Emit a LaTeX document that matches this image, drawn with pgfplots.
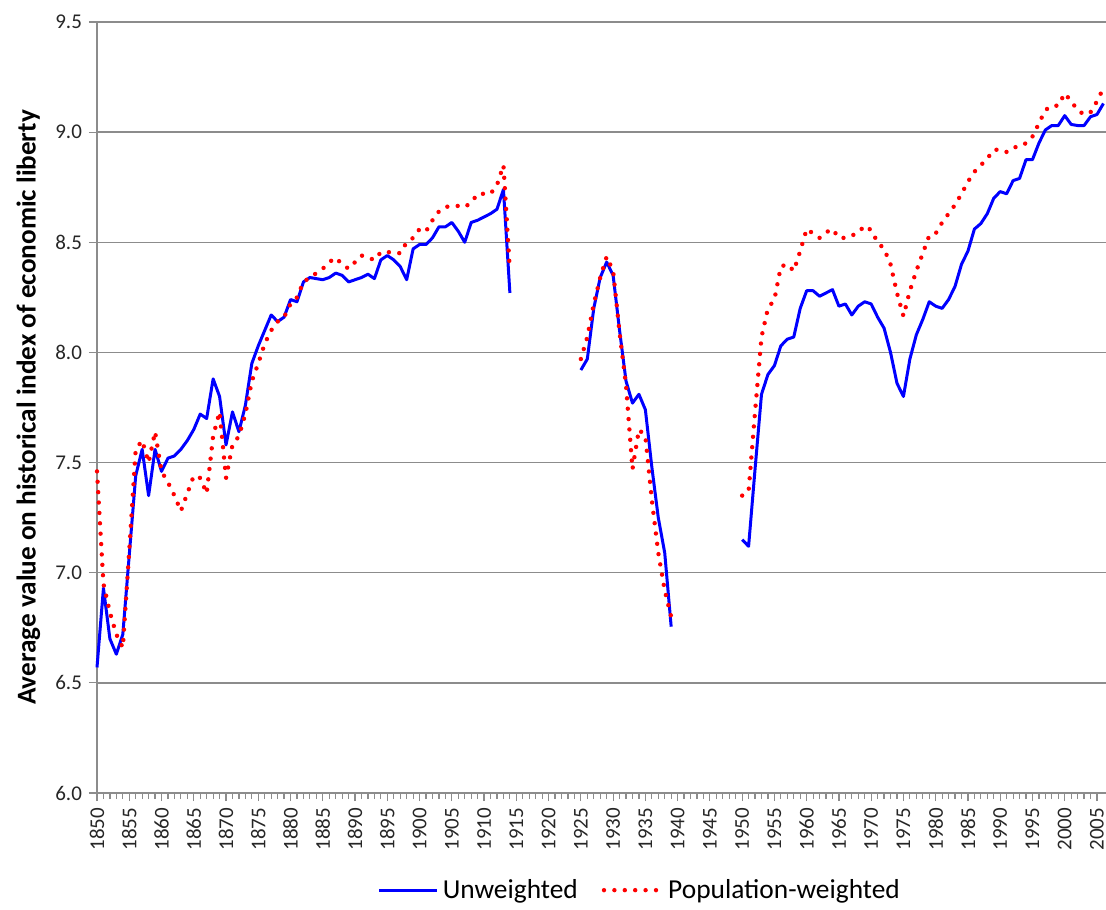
\documentclass[border=0pt]{standalone}
\usepackage{fontspec}
\setmainfont{Carlito}
\usepackage{pgfplots}
\pgfplotsset{compat=1.18}
\usepackage{pgfplotstable}
\pgfplotstableread{
year u p
1850 6.57 7.46
1851 6.93 6.95
1852 6.70 6.82
1853 6.63 6.72
1854 6.72 6.66
1855 7.08 7.10
1856 7.44 7.56
1857 7.56 7.60
1858 7.35 7.50
1859 7.56 7.64
1860 7.46 7.46
1861 7.52 7.41
1862 7.53 7.35
1863 7.56 7.28
1864 7.60 7.36
1865 7.65 7.44
1866 7.72 7.43
1867 7.70 7.36
1868 7.88 7.62
1869 7.80 7.73
1870 7.58 7.43
1871 7.73 7.58
1872 7.64 7.62
1873 7.76 7.72
1874 7.95 7.87
1875 8.03 7.95
1876 8.10 8.04
1877 8.17 8.10
1878 8.14 8.14
1879 8.16 8.16
1880 8.24 8.22
1881 8.23 8.25
1882 8.32 8.32
1883 8.34 8.34
1884 8.335 8.36
1885 8.33 8.38
1886 8.34 8.41
1887 8.36 8.43
1888 8.35 8.40
1889 8.32 8.38
1890 8.33 8.41
1891 8.34 8.44
1892 8.355 8.43
1893 8.335 8.42
1894 8.42 8.455
1895 8.44 8.455
1896 8.42 8.455
1897 8.39 8.45
1898 8.33 8.50
1899 8.47 8.52
1900 8.49 8.56
1901 8.49 8.55
1902 8.52 8.60
1903 8.57 8.64
1904 8.57 8.66
1905 8.59 8.665
1906 8.55 8.665
1907 8.50 8.66
1908 8.59 8.68
1909 8.60 8.72
1910 8.615 8.72
1911 8.63 8.72
1912 8.65 8.76
1913 8.74 8.85
1914 8.27 8.37
1915 nan nan
1924 nan nan
1925 7.92 7.97
1926 7.97 8.07
1927 8.20 8.22
1928 8.34 8.34
1929 8.41 8.435
1930 8.35 8.37
1931 8.10 8.09
1932 7.87 7.85
1933 7.77 7.47
1934 7.81 7.65
1935 7.74 7.62
1936 7.48 7.33
1937 7.25 7.09
1938 7.09 6.92
1939 6.755 6.80
1940 nan nan
1949 nan nan
1950 7.15 7.35
1951 7.12 7.37
1952 7.47 7.73
1953 7.81 8.07
1954 7.90 8.20
1955 7.94 8.24
1956 8.03 8.39
1957 8.06 8.40
1958 8.07 8.37
1959 8.20 8.46
1960 8.28 8.56
1961 8.28 8.54
1962 8.255 8.52
1963 8.27 8.545
1964 8.285 8.56
1965 8.21 8.52
1966 8.22 8.52
1967 8.17 8.53
1968 8.21 8.545
1969 8.23 8.575
1970 8.22 8.555
1971 8.16 8.50
1972 8.11 8.47
1973 8.00 8.40
1974 7.86 8.27
1975 7.80 8.165
1976 7.97 8.28
1977 8.08 8.37
1978 8.15 8.45
1979 8.23 8.53
1980 8.21 8.54
1981 8.20 8.59
1982 8.24 8.63
1983 8.30 8.67
1984 8.40 8.72
1985 8.46 8.775
1986 8.56 8.82
1987 8.585 8.85
1988 8.63 8.88
1989 8.70 8.92
1990 8.73 8.92
1991 8.72 8.91
1992 8.78 8.93
1993 8.79 8.935
1994 8.875 8.95
1995 8.875 8.98
1996 8.95 9.04
1997 9.01 9.10
1998 9.03 9.12
1999 9.03 9.12
2000 9.075 9.176
2001 9.035 9.14
2002 9.03 9.10
2003 9.03 9.08
2004 9.07 9.09
2005 9.08 9.14
2006 9.13 9.20
}\data

\begin{document}
\begin{tikzpicture}
\useasboundingbox (-48.5pt,-58pt) rectangle (504.5pt,396.5pt);
\begin{axis}[
  at={(0pt,0pt)}, anchor=south west,
  scale only axis, width=504.5pt, height=385.5pt,
  xmin=1850, xmax=2006.4, ymin=6, ymax=9.5,
  xtick={1850,1855,...,2005}, minor x tick num=4,
  ytick={6,6.5,...,9.5},
  ymajorgrids, grid style={draw=black!45, line width=0.7pt},
  axis x line*=bottom, axis y line*=left,
  axis line style={draw=black!45, line width=0.7pt, -},
  tick style={draw=black!45, line width=0.6pt},
  tick align=outside, major tick length=4pt, minor tick length=3pt,
  unbounded coords=jump, clip=false,
  ticklabel style={font=\fontsize{10.5}{12}\selectfont, text=black!85},
  /pgf/number format/assume math mode=true,
  xticklabel style={rotate=90, anchor=east, /pgf/number format/1000 sep={}},
  yticklabel style={/pgf/number format/.cd, fixed, fixed zerofill, precision=1},
  ylabel={Average value on historical index of economic liberty},
  ylabel style={font=\bfseries\fontsize{13.6}{16}\selectfont, at={(axis description cs:-0.068,0.5)}, anchor=center},
  legend columns=2,
  legend style={at={(0.539,-0.126)}, anchor=center, draw=none, fill=none,
    font=\fontsize{13.7}{16}\selectfont,
    /tikz/every even column/.append style={column sep=10pt}},
  legend image code/.code={\draw[#1] (0pt,0pt) -- (29pt,0pt);},
]
\addplot[blue, line width=1.5pt, line join=round] table[x=year,y=u]{\data};
\addlegendentry{Unweighted}
\addplot[red, line width=2.2pt, line cap=round, dash pattern=on 0pt off 5.2pt] table[x=year,y=p]{\data};
\addlegendentry{Population-weighted}
\end{axis}
\end{tikzpicture}
\end{document}
